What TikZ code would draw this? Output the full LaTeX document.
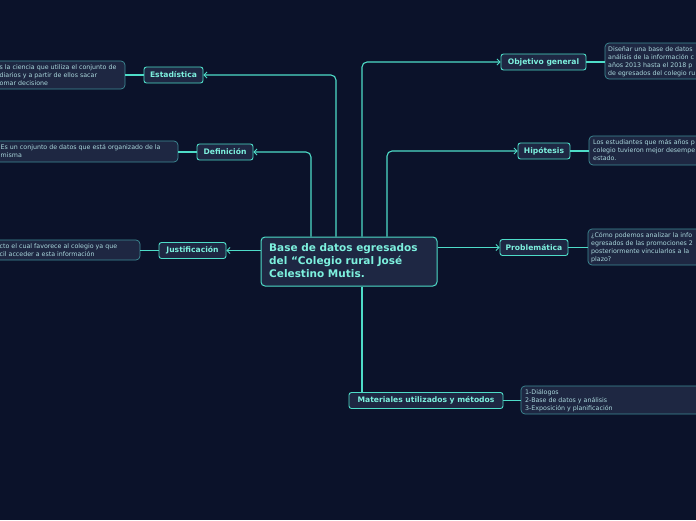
\documentclass[tikz,border=0pt]{standalone}
\usepackage{fontspec}
\setmainfont{DejaVu Sans}
\usetikzlibrary{arrows.meta}
\definecolor{bg}{RGB}{11,18,42}
\definecolor{nfill}{RGB}{30,39,67}
\definecolor{teal}{RGB}{78,220,200}
\definecolor{ntext}{RGB}{125,240,222}
\definecolor{noteborder}{RGB}{62,140,150}
\definecolor{notefill}{RGB}{30,39,66}
\definecolor{notetext}{RGB}{170,215,220}
\tikzset{
  topic/.style={draw=teal, fill=nfill, line width=0.9pt, rounded corners=2.5pt, text=ntext, font=\fontsize{7.6}{8}\selectfont\bfseries, inner sep=0pt, minimum height=16pt, anchor=center},
  central/.style={draw=teal, fill=nfill, line width=1pt, rounded corners=4pt, inner sep=0pt},
  note/.style={draw=noteborder, fill=notefill, line width=0.7pt, rounded corners=4pt},
  ntxt/.style={text=notetext, font=\fontsize{6.3}{7}\selectfont, inner sep=0pt, anchor=west},
  conn/.style={draw=teal, line width=1.1pt, rounded corners=5pt},
  arr/.style={-{Straight Barb[length=3pt,width=6pt,line width=0.9pt]}},
}
\begin{document}
\begin{tikzpicture}[x=1pt,y=-1pt]
\fill[bg] (0,0) rectangle (696,520);
\useasboundingbox (0,0) rectangle (696,520);

% central node
\node[central, minimum width=176pt, minimum height=49pt] (c) at (349,261.5) {};
\node[anchor=north west, inner sep=0pt, text=ntext, font=\fontsize{10.5}{13}\selectfont\bfseries, align=left] (ct) at (269,243) {Base de datos egresados\\del “Colegio rural José\\Celestino Mutis.};

% subtopics
\node[topic, minimum width=59pt] (est) at (173.5,75) {Estadística};
\node[topic, minimum width=56pt] (def) at (225,152) {Definición};
\node[topic, minimum width=67pt] (jus) at (192.5,250.5) {Justificación};
\node[topic, minimum width=85pt] (obj) at (543.5,62) {Objetivo general};
\node[topic, minimum width=52pt] (hip) at (544,151) {Hipótesis};
\node[topic, minimum width=68pt] (pro) at (534,247.5) {Problemática};
\node[topic, minimum width=154pt] (mat) at (426,400.5) {Materiales utilizados y métodos};

% notes (boxes)
\draw[note] (-20,61) rectangle (125,89); \coordinate (nest) at (125,75);
\draw[note] (-20,141) rectangle (178,162); \coordinate (ndef) at (178,152);
\draw[note] (-20,240) rectangle (140,260); \coordinate (njus) at (140,250.5);
\draw[note] (605,43) rectangle (720,79); \coordinate (nobj) at (605,62);
\draw[note] (589,136) rectangle (720,165); \coordinate (nhip) at (589,151);
\draw[note] (588,229) rectangle (720,265); \coordinate (npro) at (588,247.5);
\draw[note] (521,386) rectangle (720,414); \coordinate (nmat) at (521,400.5);

% note texts
\node[ntxt] (e1) at (-0.5,67.5) {s la ciencia que utiliza el conjunto de};
\node[ntxt] (e2) at (-0.5,75.5) {diarios y a partir de ellos sacar};
\node[ntxt] (e3) at (-0.5,83.5) {omar decisione};
\node[ntxt] (d1) at (0.5,147.5) {Es un conjunto de datos que está organizado de la};
\node[ntxt] (d2) at (0.5,155.5) {misma};
\node[ntxt] (j1) at (-0.5,246.5) {cto el cual favorece al colegio ya que};
\node[ntxt] (j2) at (-0.5,254.5) {cil acceder a esta información};
\node[ntxt] (o1) at (608,49.5) {Diseñar una base de datos};
\node[ntxt] (o2) at (608,57.5) {análisis de la información c};
\node[ntxt] (o3) at (608,65.5) {años 2013 hasta el 2018 p};
\node[ntxt] (o4) at (608,73.5) {de egresados del colegio ru};
\node[ntxt] (h1) at (593,142.5) {Los estudiantes que más años p};
\node[ntxt] (h2) at (593,150.5) {colegio tuvieron mejor desempe};
\node[ntxt] (h3) at (593,158.5) {estado.};
\node[ntxt] (p1) at (591,235.5) {¿Cómo podemos analizar la info};
\node[ntxt] (p2) at (591,243.5) {egresados de las promociones 2};
\node[ntxt] (p3) at (591,251.5) {posteriormente vincularlos a la};
\node[ntxt] (p4) at (591,259.5) {plazo?};
\node[ntxt] (m1) at (525,392.5) {1-Diálogos};
\node[ntxt] (m2) at (525,400.5) {2-Base de datos y análisis};
\node[ntxt] (m3) at (525,408.5) {3-Exposición y planificación};

% connectors central -> subtopics
\draw[conn, arr] ([xshift=-13pt]c.north) |- (est.east);
\draw[conn, arr] ([xshift=-38pt]c.north) |- (def.east);
\draw[conn, arr] (c.west |- jus.east) -- (jus.east);
\draw[conn, arr] ([xshift=13pt]c.north) |- (obj.west);
\draw[conn, arr] ([xshift=38pt]c.north) |- (hip.west);
\draw[conn, arr] (c.east |- pro.west) -- (pro.west);
\draw[conn] ([xshift=13pt]c.south) -- ([xshift=13pt]c.south |- mat.north);

% subtopic -> notes
\draw[conn] (est.west) -- (nest);
\draw[conn] (def.west) -- (ndef);
\draw[conn] (jus.west) -- (njus);
\draw[conn] (obj.east) -- (nobj);
\draw[conn] (hip.east) -- (nhip);
\draw[conn] (pro.east) -- (npro);
\draw[conn] (mat.east) -- (nmat);
\end{tikzpicture}
\end{document}
